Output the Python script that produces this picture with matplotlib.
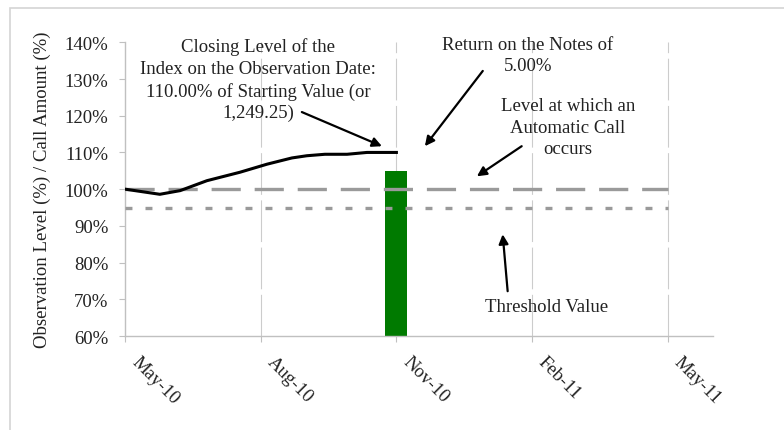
import matplotlib
matplotlib.use("Agg")
from matplotlib import pyplot as plt
import matplotlib.patches as patches
import matplotlib.transforms as mtransforms

plt.rcParams.update({'font.family': 'Liberation Serif', 'font.size': 13.5,
                     'lines.scale_dashes': False})

# months since May-10
tick_pos = [0, 3, 6, 9, 12]
tick_labels = ["May-10", "Aug-10", "Nov-10", "Feb-11", "May-11"]

# closing level of the index (% of starting value)
level_x = [0, 0.77, 1.22, 1.81, 2.54, 3.14, 3.69, 4.02, 4.42, 4.91, 5.35, 6.0]
level_y = [100, 98.6, 99.6, 102.3, 104.6, 106.8, 108.5, 109.1, 109.5, 109.5, 110.0, 110.0]

# call amount bar on the observation date
bar_x = [6.0]
bar_y = [105.0]

call_level = 100
threshold = 95
yticks = [60, 70, 80, 90, 100, 110, 120, 130, 140]

fig = plt.figure(figsize=(7.84, 4.31), dpi=100)
ax = fig.add_axes([125/784, 1-337/431, 588/784, (337-43.3)/431])

# frame around the whole chart
fig.patches.append(patches.Rectangle((10/784, -0.01), 1.0, 1-9/431+0.01,
                                     transform=fig.transFigure, fill=False,
                                     edgecolor="#d4d4d4", linewidth=1.2))

ax.set_xlim(0, 13)
ax.set_ylim(60, 140)

for x in tick_pos[1:]:
    ax.axvline(x, color="#cccccc", linewidth=0.8, linestyle=(0, (30, 4)), zorder=0)

ax.bar(bar_x, [b - 60 for b in bar_y], bottom=60, width=0.49, color="#007a00",
       zorder=2)

ax.plot([tick_pos[0], tick_pos[-1]], [call_level, call_level], color="#9a9a9a",
        linewidth=2.4, linestyle=(0, (21, 10)), zorder=3)
ax.plot([tick_pos[0], tick_pos[-1]], [threshold, threshold], color="#9a9a9a",
        linewidth=2.4, linestyle=(0, (5, 9.4)), zorder=3)

ax.plot(level_x, level_y, color="black", linewidth=2.2, zorder=4)

for s in ["top", "right"]:
    ax.spines[s].set_visible(False)
for s in ["left", "bottom"]:
    ax.spines[s].set_color("#c0c0c0")
    ax.spines[s].set_linewidth(1.0)
ax.tick_params(axis="both", colors="#c0c0c0", labelcolor="#222222", length=4,
               labelsize=13.5)
ax.tick_params(axis="y", pad=8)
ax.tick_params(axis="x", pad=8)

ax.set_yticks(yticks)
ax.set_yticklabels(["{0}%".format(v) for v in yticks])
ax.set_xticks(tick_pos)
ax.set_xticklabels(tick_labels, rotation=-45, ha="left", va="top",
                   rotation_mode="anchor")
shift = mtransforms.ScaledTranslation(15/100, 0, fig.dpi_scale_trans)
for lbl in ax.get_xticklabels():
    lbl.set_transform(lbl.get_transform() + shift)

ax.set_ylabel("Observation Level (%) / Call Amount (%)", fontsize=13.5,
              color="#222222", labelpad=10)

arrow = dict(arrowstyle="-|>", color="black", linewidth=1.6, mutation_scale=14,
             shrinkA=0, shrinkB=0)

ax.annotate("", xy=(5.68, 111.7), xytext=(3.91, 121.0), arrowprops=arrow)
ax.annotate("", xy=(6.63, 111.7), xytext=(7.91, 132.2), arrowprops=arrow)
ax.annotate("", xy=(7.78, 103.5), xytext=(8.77, 111.7), arrowprops=arrow)
ax.annotate("", xy=(8.35, 87.7), xytext=(8.46, 72.2), arrowprops=arrow)

ax.text(2.94, 129.9, "Closing Level of the\nIndex on the Observation Date:\n"
        "110.00% of Starting Value (or\n1,249.25)", ha="center", va="center",
        linespacing=1.35, color="#222222", clip_on=False)
ax.text(8.91, 136.5, "Return on the Notes of\n5.00%", ha="center", va="center",
        linespacing=1.35, color="#222222", clip_on=False)
ax.text(9.79, 116.9, "Level at which an\nAutomatic Call\noccurs", ha="center",
        va="center", linespacing=1.35, color="#222222")
ax.text(9.33, 68.1, "Threshold Value", ha="center", va="center", color="#222222")

fig.savefig("out.png", dpi=100)
